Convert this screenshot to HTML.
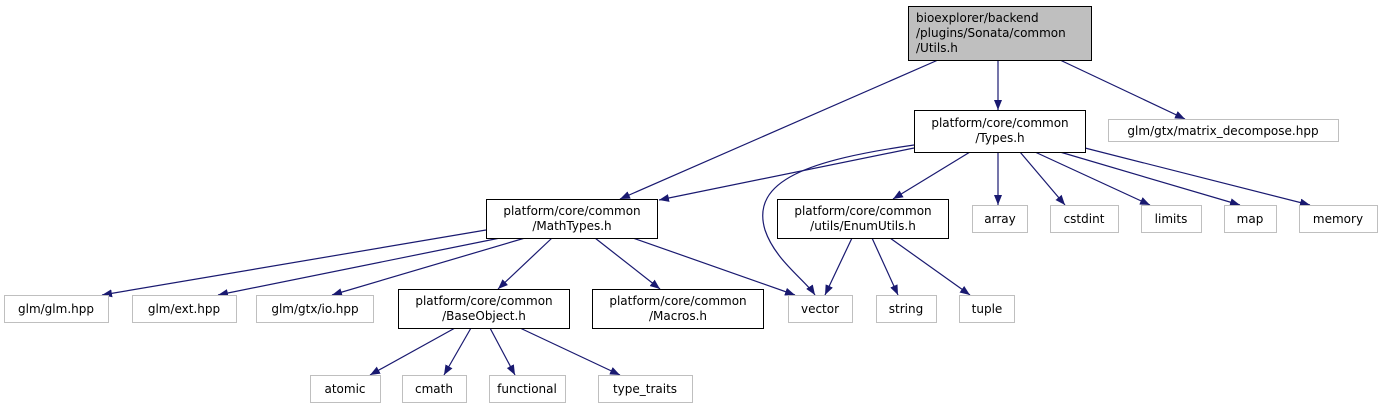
<!DOCTYPE html>
<html><head><meta charset="utf-8"><style>
html,body{margin:0;padding:0;background:#fff;width:1383px;height:409px;overflow:hidden}
text{font-family:"DejaVu Sans","Liberation Sans",sans-serif;font-size:12px;fill:#000}
</style></head><body>
<svg width="1383" height="409" viewBox="0 0 1383 409" xmlns="http://www.w3.org/2000/svg">
<defs><marker id="a" viewBox="0 0 10 10" refX="10" refY="5" markerWidth="10" markerHeight="10" markerUnits="userSpaceOnUse" orient="auto"><path d="M0,1 L10,5 L0,9 z" fill="#191970"/></marker></defs>
<g stroke="#191970" stroke-width="1.2" fill="none" marker-end="url(#a)">
<line x1="938" y1="60" x2="620" y2="199"/>
<line x1="998" y1="60" x2="998" y2="110"/>
<line x1="1060" y1="60" x2="1185" y2="119"/>
<line x1="914" y1="148" x2="659" y2="200"/>
<path d="M914,145 C810,160 750,180 765,230 C775,260 805,280 815,295"/>
<line x1="970" y1="152" x2="893" y2="199"/>
<line x1="998" y1="152" x2="998" y2="205"/>
<line x1="1020" y1="152" x2="1065" y2="205"/>
<line x1="1035" y1="152" x2="1150" y2="205"/>
<line x1="1060" y1="152" x2="1240" y2="205"/>
<line x1="1085" y1="148" x2="1310" y2="205"/>
<line x1="486" y1="230" x2="102" y2="295"/>
<line x1="500" y1="238" x2="218" y2="295"/>
<line x1="525" y1="238" x2="332" y2="295"/>
<line x1="552" y1="238" x2="498" y2="289"/>
<line x1="595" y1="238" x2="660" y2="289"/>
<line x1="633" y1="238" x2="795" y2="295"/>
<line x1="852" y1="238" x2="825" y2="295"/>
<line x1="872" y1="238" x2="898" y2="295"/>
<line x1="890" y1="238" x2="970" y2="295"/>
<line x1="455" y1="328" x2="370" y2="375"/>
<line x1="471" y1="328" x2="444" y2="375"/>
<line x1="490" y1="328" x2="515" y2="375"/>
<line x1="520" y1="328" x2="620" y2="375"/>
</g>
<g stroke-width="1">
<rect x="908.5" y="6.5" width="183" height="54" fill="#bfbfbf" stroke="#000"/>
<rect x="914.5" y="110.5" width="171" height="42" fill="#fff" stroke="#000"/>
<rect x="486.5" y="199.5" width="171" height="39" fill="#fff" stroke="#000"/>
<rect x="777.5" y="199.5" width="171" height="39" fill="#fff" stroke="#000"/>
<rect x="398.5" y="289.5" width="171" height="39" fill="#fff" stroke="#000"/>
<rect x="592.5" y="289.5" width="171" height="39" fill="#fff" stroke="#000"/>
<g fill="#fff" stroke="#bfbfbf">
<rect x="1108.5" y="119.5" width="230" height="22"/>
<rect x="972.5" y="205.5" width="55" height="27"/>
<rect x="1050.5" y="205.5" width="68" height="27"/>
<rect x="1141.5" y="205.5" width="60" height="27"/>
<rect x="1224.5" y="205.5" width="52" height="27"/>
<rect x="1299.5" y="205.5" width="78" height="27"/>
<rect x="4.5" y="295.5" width="104" height="27"/>
<rect x="132.5" y="295.5" width="104" height="27"/>
<rect x="256.5" y="295.5" width="117" height="27"/>
<rect x="788.5" y="295.5" width="64" height="27"/>
<rect x="876.5" y="295.5" width="60" height="27"/>
<rect x="959.5" y="295.5" width="55" height="27"/>
<rect x="310.5" y="375.5" width="70" height="27"/>
<rect x="402.5" y="375.5" width="64" height="27"/>
<rect x="489.5" y="375.5" width="76" height="27"/>
<rect x="598.5" y="375.5" width="94" height="27"/>
</g></g>
<g>
<text x="916" y="22">bioexplorer/backend</text>
<text x="916" y="37">/plugins/Sonata/common</text>
<text x="916" y="52">/Utils.h</text>
<g text-anchor="middle">
<text x="1000" y="127">platform/core/common</text>
<text x="1000" y="142">/Types.h</text>
<text x="572" y="215">platform/core/common</text>
<text x="572" y="230">/MathTypes.h</text>
<text x="863" y="215">platform/core/common</text>
<text x="863" y="230">/utils/EnumUtils.h</text>
<text x="484" y="305">platform/core/common</text>
<text x="484" y="320">/BaseObject.h</text>
<text x="678" y="305">platform/core/common</text>
<text x="678" y="320">/Macros.h</text>
<text x="1223" y="135">glm/gtx/matrix_decompose.hpp</text>
<text x="1000" y="223">array</text>
<text x="1084" y="223">cstdint</text>
<text x="1171" y="223">limits</text>
<text x="1250" y="223">map</text>
<text x="1338" y="223">memory</text>
<text x="56" y="313">glm/glm.hpp</text>
<text x="184" y="313">glm/ext.hpp</text>
<text x="315" y="313">glm/gtx/io.hpp</text>
<text x="820" y="313">vector</text>
<text x="906" y="313">string</text>
<text x="987" y="313">tuple</text>
<text x="345" y="393">atomic</text>
<text x="434" y="393">cmath</text>
<text x="527" y="393">functional</text>
<text x="645" y="393">type_traits</text>
</g></g>
</svg>
</body></html>
